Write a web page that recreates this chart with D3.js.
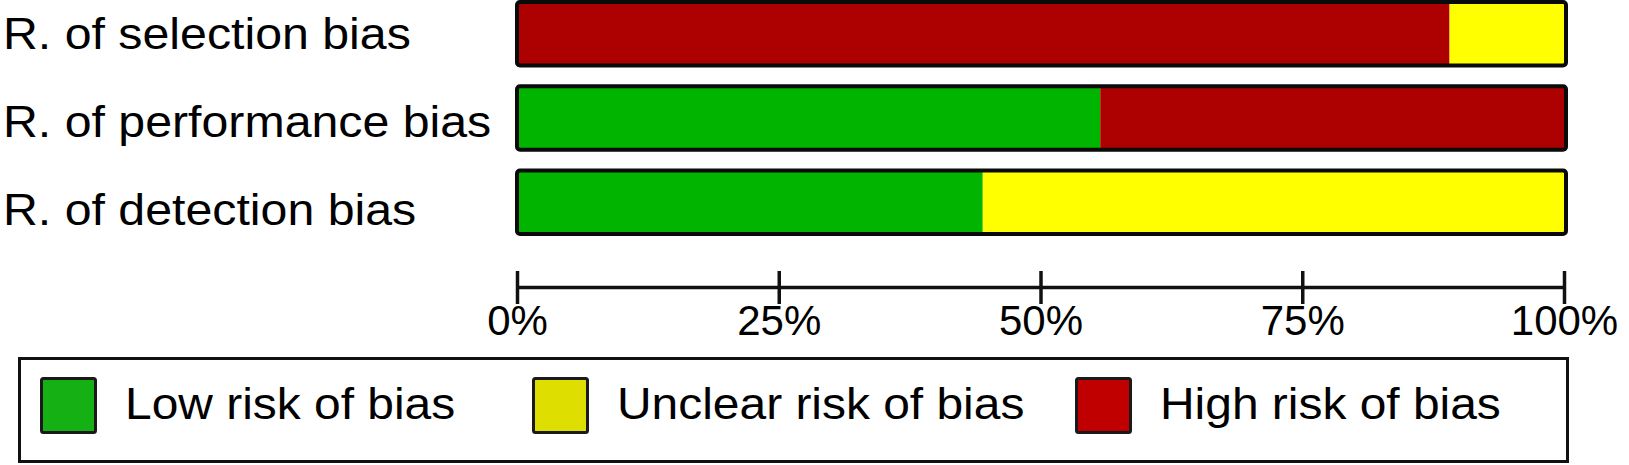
<!DOCTYPE html>
<html>
<head>
<meta charset="utf-8">
<script src="https://cdn.jsdelivr.net/npm/d3@7"></script>
<style>
  html, body { margin: 0; padding: 0; background: #fff; }
  svg { display: block; }
  text { font-family: "Liberation Sans", Arial, Helvetica, sans-serif; fill: #000; }
</style>
</head>
<body>
<svg id="chart" width="1629" height="465"></svg>
<script>
// ---- data ----
const categories = ["R. of selection bias", "R. of performance bias", "R. of detection bias"];
const seriesNames = ["Low risk of bias", "Unclear risk of bias", "High risk of bias"];
const lowRisk     = [0, 55.6, 44.4];
const unclearRisk = [11.1, 0, 55.6];
const highRisk    = [88.9, 44.4, 0];
const tickValues  = [0, 25, 50, 75, 100];
const tickLabels  = ["0%", "25%", "50%", "75%", "100%"];

// ---- styles ----
const barColors    = ["#00b400", "#ffff00", "#ad0000"];
const legendColors = ["#14b014", "#dede00", "#c00000"];

const svg = d3.select("#chart");

const x = d3.scaleLinear().domain([0, 100]).range([517, 1566]);
const y = d3.scaleBand().domain(categories).range([0, 236]).paddingInner(0.2).paddingOuter(0);
const labelY = d3.scalePoint().domain(categories).range([49, 225]);

const rows = categories.map((c, i) => ({ cat: c, vals: [lowRisk[i], unclearRisk[i], highRisk[i]] }));
// stacking order along the bar: low, high, unclear
const stack = d3.stack().keys([0, 2, 1]).value((d, k) => d.vals[k]);
const stacked = stack(rows);

// segments
const segG = svg.append("g");
stacked.forEach((layer) => {
  const k = layer.key;
  segG.selectAll(null)
    .data(layer.filter(d => d[1] - d[0] > 0))
    .enter().append("rect")
    .attr("x", d => x(d[0]))
    .attr("width", d => x(d[1]) - x(d[0]))
    .attr("y", d => y(d.data.cat) + 1)
    .attr("height", y.bandwidth() - 2)
    .attr("fill", barColors[k]);
});

// outlines
svg.append("g").selectAll("rect")
  .data(categories).enter().append("rect")
  .attr("x", x(0))
  .attr("width", x(100) - x(0))
  .attr("y", d => y(d) + 2)
  .attr("height", y.bandwidth() - 4)
  .attr("rx", 3)
  .attr("fill", "none")
  .attr("stroke", "#0a0a0a")
  .attr("stroke-width", 4);

// category labels
svg.append("g").selectAll("text")
  .data(categories).enter().append("text")
  .attr("transform", d => `translate(3,${labelY(d)}) scale(1.11,1)`)
  .style("font-size", "43.5px")
  .text(d => d);

// axis
const axisScale = d3.scaleLinear().domain([0, 100]).range([517, 1564]);
const axisG = svg.append("g")
  .attr("transform", "translate(0,287)")
  .call(d3.axisBottom(axisScale)
    .tickValues(tickValues)
    .tickFormat((d, i) => tickLabels[i])
    .tickSizeOuter(0));
axisG.select(".domain").attr("stroke", "#111").attr("stroke-width", 3.5);
axisG.selectAll(".tick line").attr("y1", -16).attr("y2", 17).attr("stroke", "#111").attr("stroke-width", 3.5);
axisG.selectAll(".tick text")
  .attr("y", 48).attr("dy", 0)
  .style("font-size", "42px")
  .style("font-family", "\"Liberation Sans\", Arial, Helvetica, sans-serif")
  .attr("fill", "#000");

// legend
const legendG = svg.append("g");
legendG.append("rect")
  .attr("x", 19.5).attr("y", 358.5)
  .attr("width", 1548).attr("height", 103)
  .attr("fill", "#fff").attr("stroke", "#111").attr("stroke-width", 3);

const legendX = [40, 532, 1075];
const items = legendG.selectAll("g.item")
  .data(seriesNames).enter().append("g")
  .attr("class", "item")
  .attr("transform", (d, i) => `translate(${legendX[i]},0)`);
items.append("rect")
  .attr("x", 1.5).attr("y", 378.5)
  .attr("width", 54).attr("height", 54)
  .attr("rx", 2)
  .attr("fill", (d, i) => legendColors[i])
  .attr("stroke", "#1a1a1a").attr("stroke-width", 3);
items.append("text")
  .attr("transform", "translate(85,419) scale(1.065,1)")
  .style("font-size", "45px")
  .text(d => d);
</script>
</body>
</html>
